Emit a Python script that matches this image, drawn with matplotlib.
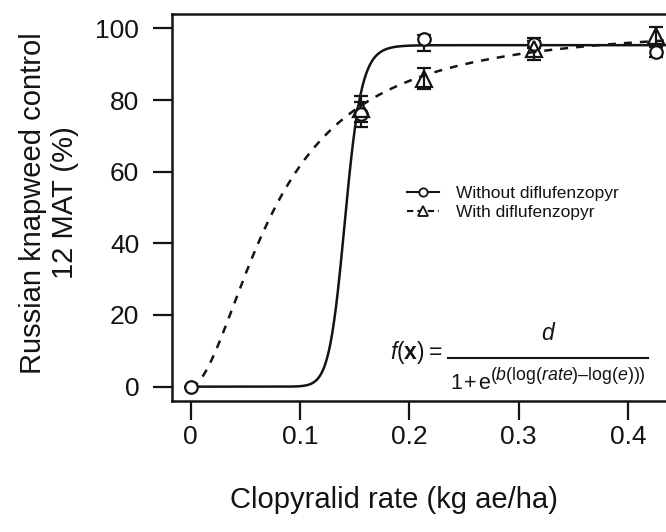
import numpy as np
import matplotlib
matplotlib.use("Agg")
import matplotlib.pyplot as plt
from matplotlib.lines import Line2D

plt.rcParams['font.family'] = ['Liberation Sans', 'DejaVu Sans']
plt.rcParams['mathtext.fontset'] = 'custom'
plt.rcParams['mathtext.rm'] = 'Liberation Sans'
plt.rcParams['mathtext.it'] = 'Liberation Sans:italic'
plt.rcParams['mathtext.bf'] = 'Liberation Sans:bold'

INK = '#141414'

# ---- data ----
rate_without = [0.0, 0.156, 0.213, 0.314, 0.426]
ctrl_without = [0.0, 76.0, 97.0, 95.5, 93.4]
err_without_lo = [0.0, 3.5, 3.2, 1.0, 1.5]
err_without_hi = [0.0, 3.5, 1.2, 1.0, 1.5]

rate_with = [0.156, 0.213, 0.314, 0.426]
ctrl_with = [77.5, 86.0, 94.2, 98.0]
err_with = [3.5, 3.0, 3.0, 2.4]

# log-logistic fit parameters (d, b, e)
fit_without = (95.3, -19.0, 0.1415)
fit_with = (101.0, -1.8, 0.078)

xticks = [0, 0.1, 0.2, 0.3, 0.4]
xtick_labels = ["0", "0.1", "0.2", "0.3", "0.4"]
yticks = [0, 20, 40, 60, 80, 100]

def loglogistic(x, d, b, e):
    x = np.asarray(x, dtype=float)
    out = np.zeros_like(x)
    pos = x > 0
    out[pos] = d / (1.0 + np.exp(b * (np.log(x[pos]) - np.log(e))))
    return out

W, H = 666, 532
fig = plt.figure(figsize=(W / 100, H / 100), dpi=100)
left, right, top, bottom = 172, 679, 14, 401
ax = fig.add_axes([left / W, 1 - bottom / H, (right - left) / W, (bottom - top) / H])

xs = np.linspace(0, 0.46, 800)
ax.plot(xs, loglogistic(xs, *fit_without), color=INK, lw=1.8, solid_capstyle='butt')
ax.plot(xs, loglogistic(xs, *fit_with), color=INK, lw=1.8, ls=(0, (3.2, 3.2)))

ax.errorbar(rate_without, ctrl_without, yerr=[err_without_lo, err_without_hi], fmt='o',
            mfc='white', mec=INK, ms=9, mew=1.6, ecolor=INK, elinewidth=1.6,
            capsize=5, capthick=1.6, zorder=3)
ax.errorbar(rate_with, ctrl_with, yerr=err_with, fmt='^', mfc='none', mec=INK,
            ms=11, mew=1.6, ecolor=INK, elinewidth=1.6, capsize=5, capthick=1.6, zorder=3)

ax.set_xlim(-0.0171, 0.4467)
ax.set_ylim(-4, 104)
ax.set_xticks(xticks)
ax.set_xticklabels(xtick_labels)
ax.set_yticks(yticks)

for s in ['left', 'top', 'bottom']:
    ax.spines[s].set_linewidth(1.8)
    ax.spines[s].set_color(INK)
ax.spines['right'].set_visible(False)

ax.tick_params(axis='both', direction='out', length=13.5, width=1.6, color=INK,
               labelsize=19, labelcolor=INK)
ax.tick_params(axis='x', pad=4)
ax.tick_params(axis='y', pad=10)

fig.text(394 / W, 1 - 500 / H, "Clopyralid rate (kg ae/ha)", ha='center', va='center',
         fontsize=21, color=INK)
fig.text(33 / W, 1 - 203 / H, "Russian knapweed control", ha='center', va='center',
         rotation=90, fontsize=21, color=INK)
fig.text(65 / W, 1 - 203 / H, "12 MAT (%)", ha='center', va='center',
         rotation=90, fontsize=21, color=INK)

handles = [Line2D([], [], color=INK, lw=1.5, marker='o', ms=6, mfc='white', mew=1.3),
           Line2D([], [], color=INK, lw=1.5, ls=(0, (3, 2)), marker='^', ms=7, mfc='white', mew=1.3)]
leg = fig.legend(handles, ["Without diflufenzopyr", "With diflufenzopyr"],
                 loc='center left', bbox_to_anchor=(407 / W, 1 - 203 / H), frameon=False,
                 fontsize=12.5, handlelength=1.85, handletextpad=1.0, labelspacing=0.25,
                 borderpad=0, borderaxespad=0)
for t in leg.get_texts():
    t.set_color(INK)

# formula
fig.text(390 / W, 1 - 353 / H, r'$f(\mathbf{x}) =$', ha='left', va='center',
         fontsize=16.5, color=INK)
fig.add_artist(Line2D([448 / W, 648 / W], [1 - 358 / H, 1 - 358 / H], color=INK, lw=1.5))
fig.text(549 / W, 1 - 340 / H, r'$d$', ha='center', va='baseline', fontsize=16.5, color=INK)
base = fig.text(450 / W, 1 - 389 / H, r'$1\!\;{+}\;\!\mathrm{e}$', ha='left', va='baseline',
                fontsize=15.5, color=INK)
renderer = fig.canvas.get_renderer()
bb = base.get_window_extent(renderer=renderer)
fig.text((bb.x1 - 1) / W, 1 - 380 / H, r'$(b(\log(rate)\mathrm{–}\log(e)))$',
         ha='left', va='baseline', fontsize=12.8, color=INK)

fig.savefig("out.png", dpi=100)
